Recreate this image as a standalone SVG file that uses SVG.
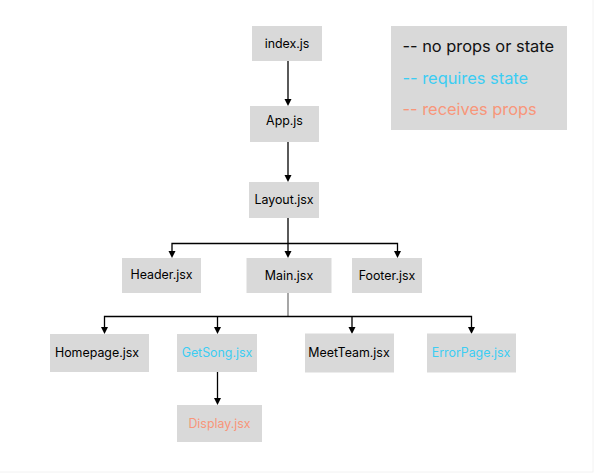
<svg xmlns="http://www.w3.org/2000/svg" width="594" height="473" viewBox="0 0 594 473">
<defs>
<style>
.box{fill:#d9d9d9;}
.t{font-family:Inter,"Liberation Sans",sans-serif;font-size:12.4px;fill:#000;text-anchor:middle;}
.st{fill:#3ccdf3;}
.pr{fill:#f8967a;}
.lg{font-family:Inter,"Liberation Sans",sans-serif;font-size:16.4px;}
.c{fill:none;stroke:#000;stroke-width:1.3;}
</style>
</defs>
<rect x="0" y="0" width="594" height="473" fill="#fff"/>
<rect x="-1" y="-1" width="594" height="473" fill="none" stroke="#f2f2f2" stroke-width="1"/>
<g id="connectors">
<path class="c" d="M288,61 V100"/>
<path class="c" d="M288,142 V176"/>
<path class="c" d="M288,218 V252"/>
<path class="c" d="M172,252 V243.5 H397.5 V252"/>
<path class="c" d="M288,293 V317" style="stroke:#777"/>
<path class="c" d="M104.5,328 V316.5 H471.5 V328"/>
<path class="c" d="M217.5,316.5 V328"/>
<path class="c" d="M352,316.5 V328"/>
<path class="c" d="M217.5,372 V399"/>
<g id="arrowheads" fill="#000">
<path d="M284.5,99 L291.5,99 L288,106 Z"/>
<path d="M284.5,175 L291.5,175 L288,182 Z"/>
<path d="M168.5,251 L175.5,251 L172,258 Z"/>
<path d="M284.5,251 L291.5,251 L288,258 Z"/>
<path d="M394,251 L401,251 L397.5,258 Z"/>
<path d="M101,327 L108,327 L104.5,334 Z"/>
<path d="M214,327 L221,327 L217.5,334 Z"/>
<path d="M348.5,327 L355.5,327 L352,334 Z"/>
<path d="M468,327 L475,327 L471.5,334 Z"/>
<path d="M214,398 L221,398 L217.5,405 Z"/>
</g>
</g>
<g id="index"><rect class="box" x="252" y="26" width="70" height="35"/><text class="t" x="287" y="48">index.js</text></g>
<g id="app"><rect class="box" x="250" y="106" width="69" height="36"/><text class="t" x="284.5" y="124.5">App.js</text></g>
<g id="layout"><rect class="box" x="249" y="182" width="70" height="36"/><text class="t" x="284" y="204">Layout.jsx</text></g>
<g id="header"><rect class="box" x="122" y="258" width="79" height="35"/><text class="t" x="161.5" y="279">Header.jsx</text></g>
<g id="main"><rect class="box" x="246.5" y="258" width="85" height="35"/><text class="t" x="289" y="280">Main.jsx</text></g>
<g id="footer"><rect class="box" x="352" y="258" width="70" height="35"/><text class="t" x="387" y="280">Footer.jsx</text></g>
<g id="homepage"><rect class="box" x="50" y="334" width="99" height="38"/><text class="t" x="97" y="357">Homepage.jsx</text></g>
<g id="getsong"><rect class="box" x="177" y="334" width="80" height="38"/><text class="t st" x="217" y="357">GetSong.jsx</text></g>
<g id="meetteam"><rect class="box" x="305" y="333.5" width="89" height="39"/><text class="t" x="349" y="357">MeetTeam.jsx</text></g>
<g id="errorpage"><rect class="box" x="427" y="333.5" width="89" height="39"/><text class="t st" x="471" y="357">ErrorPage.jsx</text></g>
<g id="display"><rect class="box" x="177" y="405" width="85" height="37"/><text class="t pr" x="219.5" y="428">Display.jsx</text></g>
<g id="legend">
<rect class="box" x="391" y="26" width="176" height="104"/>
<text class="lg" x="402.5" y="52" fill="#111">-- no props or state</text>
<text class="lg st" x="402.5" y="84">-- requires state</text>
<text class="lg pr" x="402.5" y="115">-- receives props</text>
</g>
</svg>
